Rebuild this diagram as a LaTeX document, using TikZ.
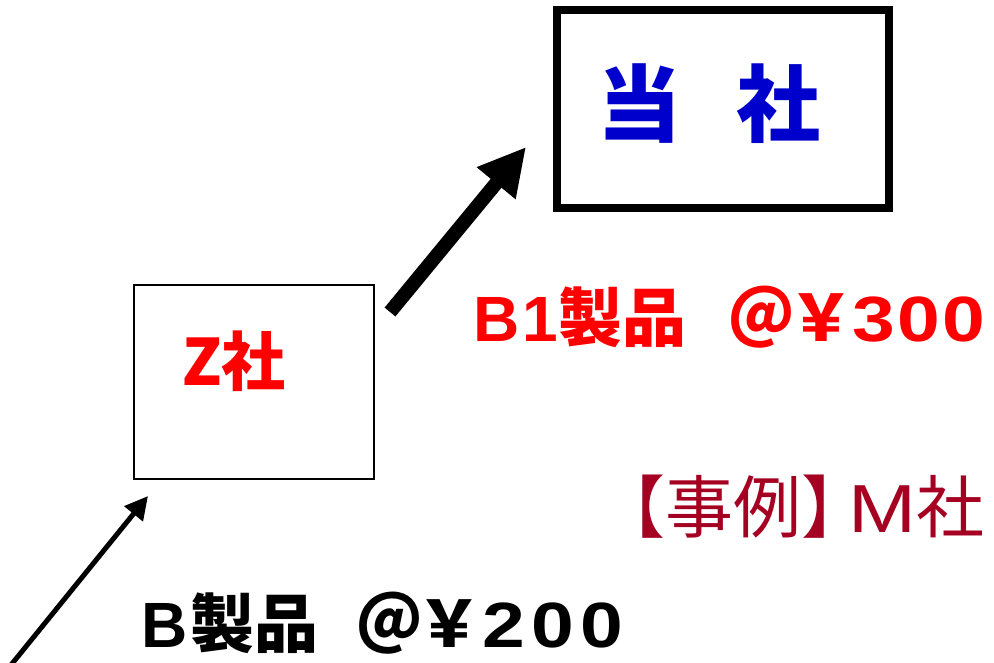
\documentclass[tikz,border=0pt]{standalone}
\usepackage{fontspec}
\setmainfont{Noto Sans CJK JP}
\newfontfamily\latinfont{Liberation Sans}
\newfontfamily\widefont[FakeStretch=1.2]{Liberation Sans}
\usetikzlibrary{arrows.meta}
\definecolor{toushablue}{RGB}{0,0,204}
\definecolor{jireired}{RGB}{165,0,33}
\newcommand\cell[2]{\makebox[#1]{#2}}

\begin{document}
\begin{tikzpicture}[x=1pt,y=-1pt,
   every node/.style={inner sep=0pt},
   price text/.style={anchor=base west,font=\fontsize{64}{76}\selectfont\bfseries},
   company box/.style={draw,minimum width=#1},
   flow arrow/.style={-{Triangle[length=#1,width=#1]}}]
\useasboundingbox (0,0) rectangle (994,662);
\node[company box=332pt,minimum height=198pt,line width=8pt] (tousha) at (723,109) {};
\node[company box=240pt,minimum height=194pt,line width=2pt] (zsha) at (254,382) {};
\node[anchor=base,text=toushablue,font=\fontsize{84}{100}\selectfont\bfseries] (toushaname) at (709,135) {当\hspace{0.65em}社};
\node[anchor=base,text=red,font=\fontsize{64}{76}\selectfont\bfseries] (zshaname) at (234,385) {Z社};
\node[price text,text=red] (b1price) at (470,341) {\cell{52pt}{\latinfont B}\cell{36pt}{\latinfont 1}製品\hspace{45pt}\cell{60pt}{＠}\cell{60pt}{￥}\cell{45pt}{\widefont 3}\cell{45pt}{\widefont 0}\cell{45pt}{\widefont 0}};
\node[price text] (bprice) at (138,647) {\cell{52pt}{\latinfont B}製品\hspace{41pt}\cell{60pt}{＠}\cell{60pt}{￥}\cell{49pt}{\widefont 2}\cell{49pt}{\widefont 0}\cell{49pt}{\widefont 0}};
\node[anchor=base west,text=jireired,font=\fontsize{68}{80}\selectfont] (jirei) at (597,532) {【事例】\hspace{-21pt}{\widefont M}社};
\coordinate (bigtail) at (390,312);
\coordinate (bigtip) at (526,147);
\coordinate (smalltail) at (11,665);
\coordinate (smalltip) at (148,496);
\draw[flow arrow=47pt,line width=14pt] (bigtail) -- (bigtip);
\draw[flow arrow=23pt,line width=5pt] (smalltail) -- (smalltip);
\end{tikzpicture}
\end{document}
